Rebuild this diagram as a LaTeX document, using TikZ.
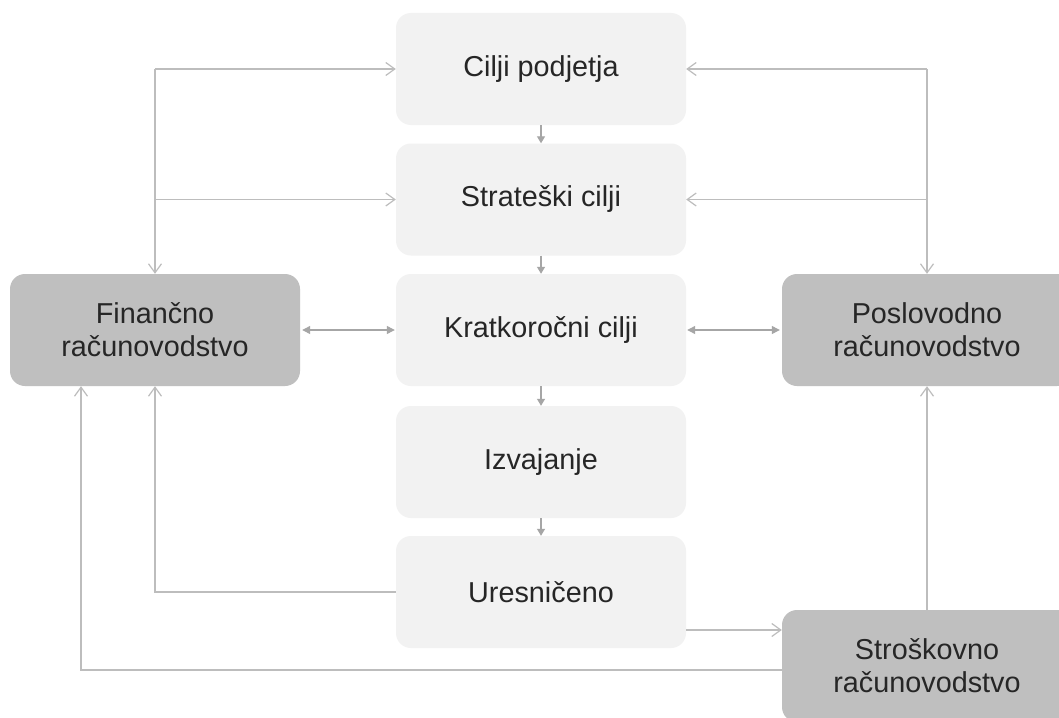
\documentclass[tikz,border=0pt]{standalone}
\usepackage{fontspec}
\setmainfont{Liberation Sans}
\usetikzlibrary{arrows.meta,positioning}
\definecolor{lightbox}{HTML}{F2F2F2}
\definecolor{darkbox}{HTML}{BFBFBF}
\definecolor{linegray}{HTML}{BDBDBD}
\definecolor{tipgray}{HTML}{A6A6A6}
\definecolor{txt}{HTML}{262626}
\tikzset{
  base/.style={rectangle, rounded corners=15pt, minimum width=290pt, minimum height=112pt,
    text=txt, align=center, font=\fontsize{28.8}{33}\selectfont, inner sep=0pt},
  lightnode/.style={base, fill=lightbox},
  darknode/.style={base, fill=darkbox},
  barb/.style={draw=linegray, line width=1.2pt, -{Straight Barb[length=9pt,width=13pt]}},
  plainline/.style={draw=linegray, line width=1.2pt},
  smallarrow/.style={draw=tipgray, line width=1.2pt, -{Triangle[length=7pt,width=8pt]}},
  dblarrow/.style={draw=tipgray, line width=1.2pt, {Triangle[length=8pt,width=8pt]}-{Triangle[length=8pt,width=8pt]}}
}
\begin{document}
\begin{tikzpicture}[x=1pt,y=-1pt]
\useasboundingbox (0,0) rectangle (1059,717);
\clip (0,0) rectangle (1059,717);
\fill[white] (0,0) rectangle (1059,717);
% center column
\node[lightnode] (c1) at (541,69) {Cilji podjetja};
\node[lightnode] (c2) at (541,199.5) {Strateški cilji};
\node[lightnode] (c3) at (541,330) {Kratkoročni cilji};
\node[lightnode] (c4) at (541,462) {Izvajanje};
\node[lightnode] (c5) at (541,592) {Uresničeno};
% side boxes
\node[darknode] (fin) at (155,330) {Finančno\\računovodstvo};
\node[darknode] (pos) at (927,330) {Poslovodno\\računovodstvo};
\node[darknode] (str) at (927,666) {Stroškovno\\računovodstvo};
% coordinates
\coordinate (fl1) at (c1.west -| fin.north);
\coordinate (fl2) at (c2.west -| fin.north);
\coordinate (pr1) at (c1.east -| pos.north);
\coordinate (pr2) at (c2.east -| pos.north);
% center arrows
\draw[smallarrow] (c1.south) -- (c2.north);
\draw[smallarrow] (c2.south) -- (c3.north);
\draw[smallarrow] (c3.south) -- (c4.north);
\draw[smallarrow] (c4.south) -- (c5.north);
% left branch
\draw[barb] (fl1) -- (fin.north);
\draw[barb] (fl1) -- (c1.west);
\draw[barb] (fl2) -- (c2.west);
% right branch
\draw[barb] (pr1) -- (pos.north);
\draw[barb] (pr1) -- (c1.east);
\draw[barb] (pr2) -- (c2.east);
% double arrows
\draw[dblarrow, shorten <=2pt, shorten >=1pt] (fin.east) -- (c3.west);
\draw[dblarrow, shorten <=1pt, shorten >=2pt] (c3.east) -- (pos.west);
% bottom connectors
\draw[barb] (c5.west) -| (fin.south);
\coordinate (sl) at ([yshift=-4pt]str.west);
\coordinate (fx) at ([xshift=-74pt]fin.south);
\draw[barb] (sl) -| (fx);
\coordinate (ue) at ([yshift=-38pt]c5.east);
\draw[barb] (ue) -- (ue -| str.west);
\draw[barb] (str.north) -- (pos.south);
\end{tikzpicture}
\end{document}
